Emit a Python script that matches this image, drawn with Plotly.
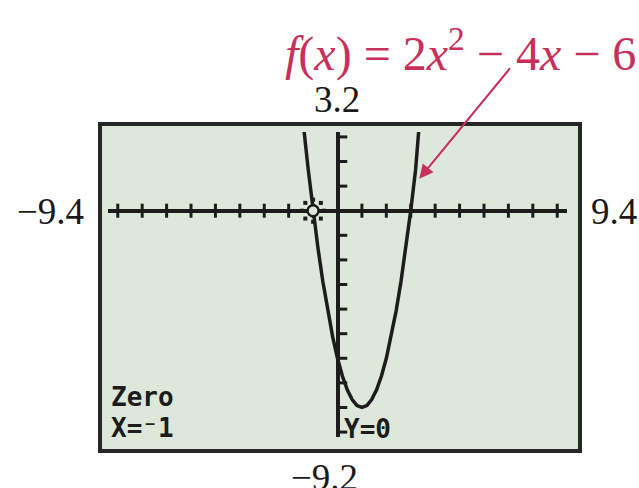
import numpy as np
import plotly.graph_objects as go

# Graphing window
x_min, x_max = -9.4, 9.4
y_min, y_max = -9.2, 3.2

# f(x) = a*x^2 + b*x + c
coef_a, coef_b, coef_c = 2, -4, -6

# Zero found by the calculator
zero_x, zero_y = -1, 0

# Axis tick marks (Xscl = Yscl = 1)
x_ticks = [k for k in range(-9, 10) if k != 0]
y_ticks = [k for k in range(-9, 4) if k != 0]

# Window labels around the screen
window_labels = ["3.2", "\u22129.4", "9.4", "\u22129.2"]
screen_lines = ["Zero", "X=\u207b1", "Y=0"]
func_label = "<i>f</i>(<i>x</i>) = 2<i>x</i><sup>2</sup> \u2212 4<i>x</i> \u2212 6"

SCREEN = "#dde8da"
INK = "#1c1c1c"
RED = "#c8305a"

# one sample per screen pixel column
pix = 0.2
xs = np.round(np.arange(x_min, x_max + 1e-9, pix), 4)
ys = coef_a * xs**2 + coef_b * xs + coef_c

fig = go.Figure()

# x-axis tick marks
fig.add_trace(go.Scatter(
    x=x_ticks, y=[0] * len(x_ticks), mode="markers",
    marker=dict(symbol="line-ns", size=10, line=dict(color=INK, width=3)),
    hoverinfo="skip", showlegend=False))
# y-axis tick marks (drawn one pixel right of the axis)
fig.add_trace(go.Scatter(
    x=[pix] * len(y_ticks), y=y_ticks, mode="markers",
    marker=dict(symbol="line-ew", size=7, line=dict(color=INK, width=3)),
    hoverinfo="skip", showlegend=False))

# the parabola
fig.add_trace(go.Scatter(
    x=xs, y=ys, mode="lines", line=dict(color=INK, width=3.5),
    hoverinfo="skip", showlegend=False))

# trace cursor at the zero: ring plus eight dots
r = 0.45
ang = np.arange(8) * np.pi / 4
fig.add_trace(go.Scatter(
    x=zero_x + r * np.cos(ang), y=zero_y + r * np.sin(ang), mode="markers",
    marker=dict(symbol="square", size=4, color=INK),
    hoverinfo="skip", showlegend=False))
fig.add_trace(go.Scatter(
    x=[zero_x], y=[zero_y], mode="markers",
    marker=dict(symbol="circle", size=11, color=SCREEN, line=dict(color=INK, width=2.5)),
    hoverinfo="skip", showlegend=False))

# geometry helpers: plot area in pixels
L, R, T, B = 108, 72, 132, 51
W, H = 639, 488
pw, ph = W - L - R, H - T - B


def px(x):
    return (x - L) / pw


def py(y):
    return (H - B - y) / ph


fig.add_shape(type="rect", xref="paper", yref="paper",
              x0=px(100), x1=px(580), y0=py(451), y1=py(124),
              fillcolor=SCREEN, line=dict(color="#262626", width=4), layer="below")

serif = "Liberation Serif"
mono = "DejaVu Sans Mono"
ann = []
# window values
ann.append(dict(x=px(337), y=py(99), text=window_labels[0]))
ann.append(dict(x=px(50), y=py(211), text=window_labels[1]))
ann.append(dict(x=px(614), y=py(211), text=window_labels[2]))
ann.append(dict(x=px(324), y=py(477), text=window_labels[3]))
for a_ in ann:
    a_.update(xref="paper", yref="paper", showarrow=False,
              font=dict(family=serif, size=37, color="#1a1a1a"),
              xanchor="center", yanchor="middle")

calc_font = dict(family=mono, size=26, color=INK, weight="bold")
ann.append(dict(x=px(109), y=py(397), text=screen_lines[0], xref="paper", yref="paper",
                showarrow=False, font=calc_font, xanchor="left", yanchor="middle"))
ann.append(dict(x=px(109), y=py(428), text=screen_lines[1], xref="paper", yref="paper",
                showarrow=False, font=calc_font, xanchor="left", yanchor="middle"))
ann.append(dict(x=px(342), y=py(429), text=screen_lines[2], xref="paper", yref="paper",
                showarrow=False, font=calc_font, xanchor="left", yanchor="middle"))

# function label
ann.append(dict(x=px(460), y=py(50), text=func_label, xref="paper", yref="paper",
                showarrow=False, font=dict(family=serif, size=48, color=RED),
                xanchor="center", yanchor="middle"))
# arrow pointing at the curve
ann.append(dict(x=3.35, y=1.3, xref="x", yref="y", text="", showarrow=True,
                ax=92, ay=-112, arrowhead=2, arrowsize=1.4, arrowwidth=2,
                arrowcolor=RED, standoff=0))

fig.update_layout(
    width=W, height=H, autosize=False,
    margin=dict(l=L, r=R, t=T, b=B),
    paper_bgcolor="white", plot_bgcolor=SCREEN,
    annotations=ann,
    xaxis=dict(range=[x_min, x_max], showgrid=False, showticklabels=False, ticks="",
               zeroline=True, zerolinecolor=INK, zerolinewidth=4, showline=False),
    yaxis=dict(range=[y_min, y_max], showgrid=False, showticklabels=False, ticks="",
               zeroline=True, zerolinecolor=INK, zerolinewidth=4, showline=False),
)

fig.write_html("out.html")
